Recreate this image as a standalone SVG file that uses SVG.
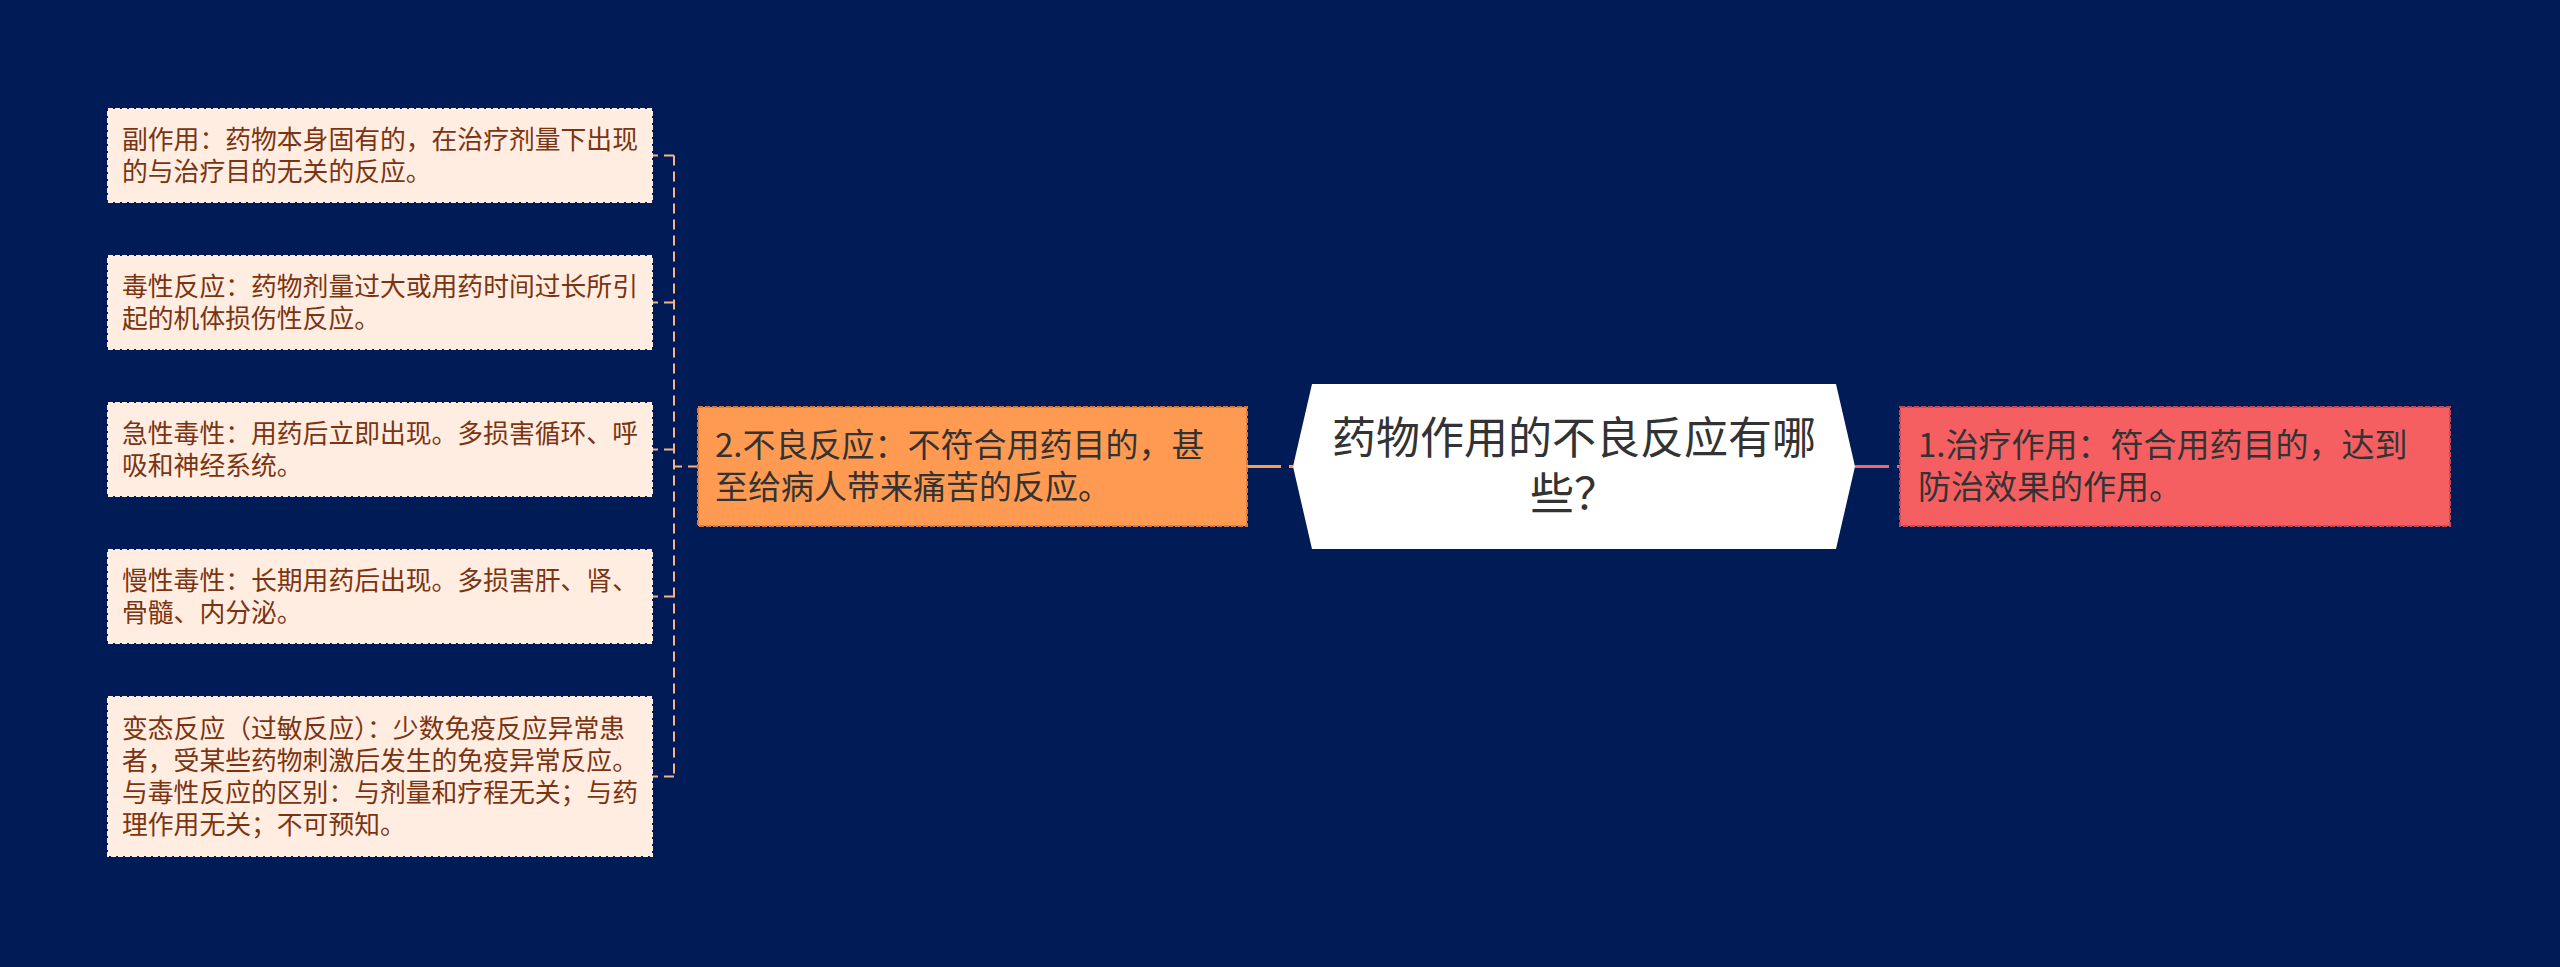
<svg xmlns="http://www.w3.org/2000/svg" width="2560" height="967" viewBox="0 0 2560 967">
<style>
text{font-family:"Noto Sans CJK SC","Noto Sans",sans-serif;}
.leaf rect{fill:#FFEDE1;stroke:#FFEDE1;stroke-width:2;stroke-dasharray:5,2;}
.leaf text{font-size:25.8px;fill:#7B3411;}
.sub text{font-size:33px;fill:#333333;}
.orange rect{fill:#FF9A52;stroke:#D97A38;stroke-width:2;stroke-dasharray:5,2;}
.red rect{fill:#F65F62;stroke:#C9474E;stroke-width:2;stroke-dasharray:5,2;}
.root text{font-size:44px;fill:#333333;}
.lc{fill:none;stroke:#F4B48A;stroke-width:2;stroke-dasharray:10,6;}
</style>
<rect x="0" y="0" width="2560" height="967" fill="#011B57"/>
<g id="connectors">
<line x1="1247" y1="466.5" x2="1293" y2="466.5" stroke="#FF9A52" stroke-width="3" stroke-dasharray="34,8"/>
<line x1="1855" y1="466.5" x2="1900" y2="466.5" stroke="#EC6870" stroke-width="3" stroke-dasharray="34,8"/>
<path class="lc" d="M698,466.5 H674"/>
<path class="lc" d="M674,155.5 V776.5"/>
<path class="lc" d="M674,155.5 H652"/>
<path class="lc" d="M674,302.5 H652"/>
<path class="lc" d="M674,449.5 H652"/>
<path class="lc" d="M674,596.5 H652"/>
<path class="lc" d="M674,776.5 H652"/>
</g>
<g id="root" class="root">
<polygon points="1293,466.5 1312,384 1836,384 1855,466.5 1836,549 1312,549" fill="#FFFFFF"/>
<text text-anchor="middle"><tspan x="1574" y="454">药物作用的不良反应有哪</tspan><tspan x="1574" y="510">些？</tspan></text>
</g>
<g id="node-1" class="sub red">
<rect x="1900" y="407" width="550" height="119"/>
<text><tspan x="1918" y="457">1.治疗作用：符合用药目的，达到</tspan><tspan x="1918" y="499">防治效果的作用。</tspan></text>
</g>
<g id="node-2" class="sub orange">
<rect x="698" y="407" width="549" height="119"/>
<text><tspan x="715" y="457">2.不良反应：不符合用药目的，甚</tspan><tspan x="715" y="499">至给病人带来痛苦的反应。</tspan></text>
</g>
<g id="leaf-1" class="leaf">
<rect x="108" y="109" width="544" height="93"/>
<text><tspan x="122" y="148.5">副作用：药物本身固有的，在治疗剂量下出现</tspan><tspan x="122" y="180.5">的与治疗目的无关的反应。</tspan></text>
</g>
<g id="leaf-2" class="leaf">
<rect x="108" y="256" width="544" height="93"/>
<text><tspan x="122" y="295.5">毒性反应：药物剂量过大或用药时间过长所引</tspan><tspan x="122" y="327.5">起的机体损伤性反应。</tspan></text>
</g>
<g id="leaf-3" class="leaf">
<rect x="108" y="403" width="544" height="93"/>
<text><tspan x="122" y="442.5">急性毒性：用药后立即出现。多损害循环、呼</tspan><tspan x="122" y="474.5">吸和神经系统。</tspan></text>
</g>
<g id="leaf-4" class="leaf">
<rect x="108" y="550" width="544" height="93"/>
<text><tspan x="122" y="589.5">慢性毒性：长期用药后出现。多损害肝、肾、</tspan><tspan x="122" y="621.5">骨髓、内分泌。</tspan></text>
</g>
<g id="leaf-5" class="leaf">
<rect x="108" y="697" width="544" height="159"/>
<text><tspan x="122" y="737.5">变态反应（过敏反应）：少数免疫反应异常患</tspan><tspan x="122" y="769.5">者，受某些药物刺激后发生的免疫异常反应。</tspan><tspan x="122" y="801.5">与毒性反应的区别：与剂量和疗程无关；与药</tspan><tspan x="122" y="833.5">理作用无关；不可预知。</tspan></text>
</g>
</svg>
